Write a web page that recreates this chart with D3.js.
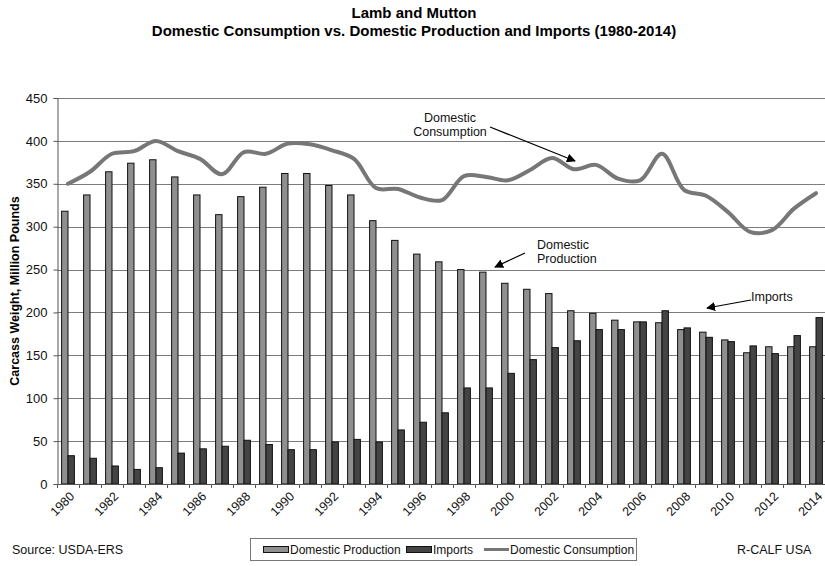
<!DOCTYPE html>
<html>
<head>
<meta charset="utf-8">
<script src="https://cdn.jsdelivr.net/npm/d3@7"></script>
<style>
  html, body { margin: 0; padding: 0; background: #fff; }
  svg { display: block; font-family: "Liberation Sans", Arial, sans-serif; }
</style>
</head>
<body>
<svg id="chart" width="825" height="566"></svg>
<script>
const years = d3.range(1980, 2015);
const production = [318, 337, 364, 374, 378, 358, 337, 314, 335, 346,
                    362, 362, 348, 337, 307, 284, 268, 259, 250, 247,
                    234, 227, 222, 202, 199, 191, 189, 188, 180, 177,
                    168, 153, 160, 160, 160];
const imports = [33, 30, 21, 17, 19, 36, 41, 44, 51, 46,
                 40, 40, 49, 52, 49, 63, 72, 83, 112, 112,
                 129, 145, 159, 167, 180, 180, 189, 202, 182, 171,
                 166, 161, 152, 173, 194];
const consumption = [350, 364, 385, 388, 400, 388, 379, 361, 387, 385,
                     397, 396, 389, 379, 345, 344, 334, 331, 359, 358,
                     354, 366, 380, 367, 372, 356, 354, 385, 343, 336,
                     317, 294, 296, 321, 339];
const yTicks = [0, 50, 100, 150, 200, 250, 300, 350, 400, 450];
const xTickLabels = years.filter(y => (y - 1980) % 2 === 0);
const seriesNames = ["Domestic Production", "Imports", "Domestic Consumption"];

const svg = d3.select("#chart");
const pLeft = 57, pRight = 827, pTop = 98, pBottom = 484;

const x = d3.scaleBand().domain(years).range([pLeft, pRight]).padding(0);
const sub = d3.scaleBand().domain(["prod", "imp"]).range([0, 12.8]);
const subOff = (x.bandwidth() - 12.8) / 2;
const y = d3.scaleLinear().domain([0, 450]).range([pBottom, pTop]);

// Titles
svg.append("text").attr("x", 414).attr("y", 18).attr("text-anchor", "middle")
  .attr("font-size", 15).attr("font-weight", "bold").text("Lamb and Mutton");
svg.append("text").attr("x", 414).attr("y", 36).attr("text-anchor", "middle")
  .attr("font-size", 15).attr("font-weight", "bold")
  .text("Domestic Consumption  vs. Domestic  Production and Imports (1980-2014)");

// Gridlines
svg.append("g").selectAll("line").data(yTicks.filter(d => d > 0)).join("line")
  .attr("x1", pLeft).attr("x2", 825)
  .attr("y1", d => Math.round(y(d)) + 0.5).attr("y2", d => Math.round(y(d)) + 0.5)
  .attr("stroke", "#7c7c7c").attr("stroke-width", 1);

// Y axis
const yAxis = d3.axisLeft(y).tickValues(yTicks).tickSize(4).tickPadding(6);
const gy = svg.append("g").attr("transform", `translate(${pLeft + 0.5},0)`).call(yAxis);
gy.select(".domain").attr("stroke", "#555");
gy.selectAll(".tick line").attr("stroke", "#555");
gy.selectAll(".tick text").attr("font-size", 13).attr("fill", "#111")
  .attr("font-family", "Liberation Sans, Arial, sans-serif");

svg.append("text")
  .attr("transform", `translate(19,${(pTop + pBottom) / 2}) rotate(-90)`)
  .attr("text-anchor", "middle").attr("font-size", 12.5).attr("font-weight", "bold")
  .text("Carcass Weight, Million Pounds");

// Bars
const groups = svg.append("g").selectAll("g").data(years).join("g")
  .attr("transform", d => `translate(${x(d) + subOff},0)`);
groups.append("rect")
  .attr("x", sub("prod")).attr("width", sub.bandwidth())
  .attr("y", (d, i) => y(production[i])).attr("height", (d, i) => y(0) - y(production[i]))
  .attr("fill", "#8f8f8f").attr("stroke", "#111").attr("stroke-width", 1);
groups.append("rect")
  .attr("x", sub("imp")).attr("width", sub.bandwidth())
  .attr("y", (d, i) => y(imports[i])).attr("height", (d, i) => y(0) - y(imports[i]))
  .attr("fill", "#444").attr("stroke", "#111").attr("stroke-width", 1);

// X axis
svg.append("line").attr("x1", pLeft).attr("x2", 825)
  .attr("y1", y(0) + 0.5).attr("y2", y(0) + 0.5).attr("stroke", "#555");
const boundaries = years.map(d => x(d)).concat([x(years[years.length - 1]) + x.bandwidth()]);
svg.append("g").selectAll("line").data(boundaries).join("line")
  .attr("x1", d => Math.round(d) + 0.5).attr("x2", d => Math.round(d) + 0.5)
  .attr("y1", y(0)).attr("y2", y(0) + 4).attr("stroke", "#555");
svg.append("g").selectAll("text").data(xTickLabels).join("text")
  .attr("transform", d => `translate(${x(d) + x.bandwidth() / 2 + 4},${y(0) + 10}) rotate(-45)`)
  .attr("text-anchor", "end").attr("dy", "0.35em")
  .attr("font-size", 12.5).attr("fill", "#111").text(d => d);

// Consumption line
const line = d3.line()
  .x((d, i) => x(years[i]) + x.bandwidth() / 2)
  .y(d => y(d))
  .curve(d3.curveCatmullRom.alpha(0.5));
svg.append("path").datum(consumption).attr("d", line)
  .attr("fill", "none").attr("stroke", "#777").attr("stroke-width", 4)
  .attr("stroke-linejoin", "round").attr("stroke-linecap", "round");

// Arrow marker
const defs = svg.append("defs");
defs.append("marker").attr("id", "arrow").attr("viewBox", "0 0 10 10")
  .attr("refX", 9).attr("refY", 5).attr("markerWidth", 9).attr("markerHeight", 9)
  .attr("markerUnits", "userSpaceOnUse").attr("orient", "auto")
  .append("path").attr("d", "M0,0 L10,5 L0,10 z").attr("fill", "#000");

// Annotations
const ann = svg.append("g").attr("font-size", 12.5).attr("fill", "#111");
ann.append("text").attr("x", 450).attr("y", 122).attr("text-anchor", "middle").text("Domestic");
ann.append("text").attr("x", 450).attr("y", 136).attr("text-anchor", "middle").text("Consumption");
svg.append("line").attr("x1", 490).attr("y1", 127).attr("x2", 575).attr("y2", 161)
  .attr("stroke", "#000").attr("stroke-width", 1.2).attr("marker-end", "url(#arrow)");

ann.append("text").attr("x", 537).attr("y", 249).text("Domestic");
ann.append("text").attr("x", 537).attr("y", 263).text("Production");
svg.append("line").attr("x1", 525).attr("y1", 253).attr("x2", 495).attr("y2", 267)
  .attr("stroke", "#000").attr("stroke-width", 1.2).attr("marker-end", "url(#arrow)");

ann.append("text").attr("x", 751).attr("y", 301).text("Imports");
svg.append("line").attr("x1", 751).attr("y1", 300).attr("x2", 707).attr("y2", 308)
  .attr("stroke", "#000").attr("stroke-width", 1.2).attr("marker-end", "url(#arrow)");

// Legend
const lg = svg.append("g");
lg.append("rect").attr("x", 250.5).attr("y", 538.5).attr("width", 386).attr("height", 22)
  .attr("fill", "#fff").attr("stroke", "#777");
const legendItems = [
  { name: seriesNames[0], type: "bar", fill: "#8f8f8f", sx: 263, tx: 290 },
  { name: seriesNames[1], type: "bar", fill: "#444", sx: 406, tx: 433 },
  { name: seriesNames[2], type: "line", fill: "#777", sx: 484, tx: 510 }
];
legendItems.forEach(it => {
  if (it.type === "bar") {
    lg.append("rect").attr("x", it.sx + 0.5).attr("y", 546.5).attr("width", 25).attr("height", 6)
      .attr("fill", it.fill).attr("stroke", "#111");
  } else {
    lg.append("line").attr("x1", it.sx).attr("x2", it.sx + 25).attr("y1", 549.5).attr("y2", 549.5)
      .attr("stroke", it.fill).attr("stroke-width", 3);
  }
  lg.append("text").attr("x", it.tx).attr("y", 554).attr("font-size", 12).attr("fill", "#111").text(it.name);
});

// Footer
svg.append("text").attr("x", 12).attr("y", 554).attr("font-size", 12.5).attr("fill", "#111").text("Source:  USDA-ERS");
svg.append("text").attr("x", 737).attr("y", 554).attr("font-size", 12.5).attr("fill", "#111").text("R-CALF USA");
</script>
</body>
</html>
